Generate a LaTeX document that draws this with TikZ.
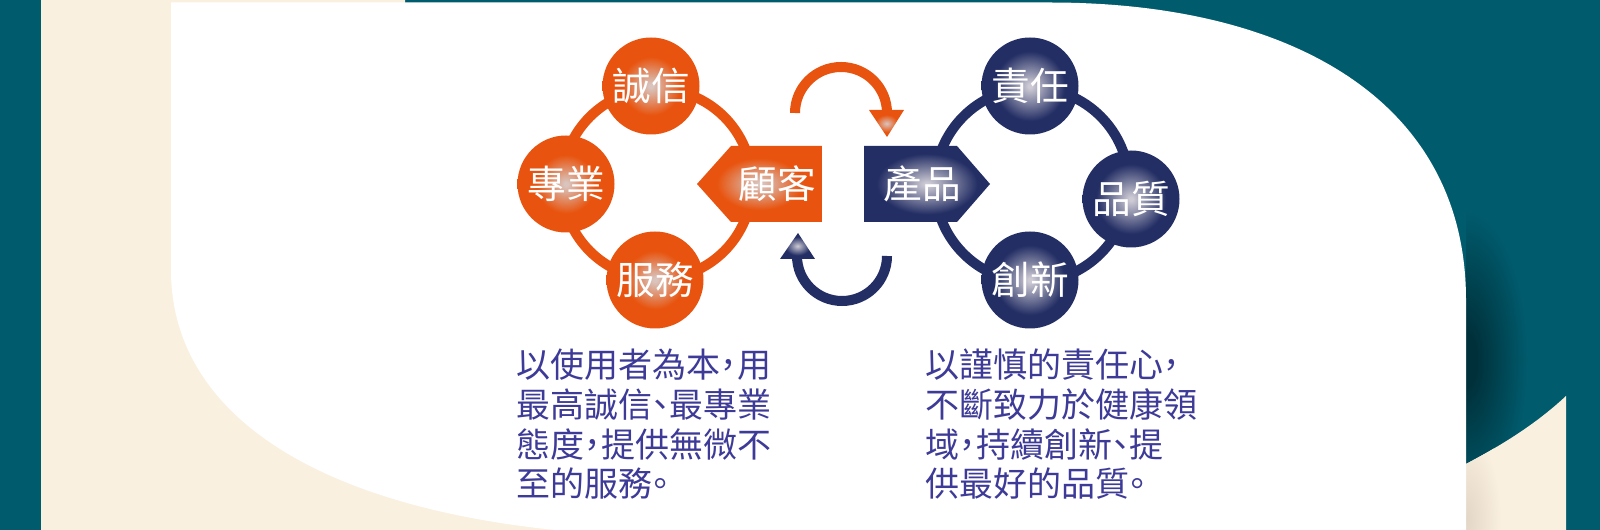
\documentclass[tikz,border=0pt]{standalone}
\usepackage{fontspec}
\newfontfamily\cjk{Noto Sans CJK TC}[RawFeature={+halt}]
\definecolor{bgteal}{HTML}{005B6D}
\definecolor{cream}{HTML}{FAF0E0}
\definecolor{orng}{HTML}{E8540F}
\definecolor{orhi}{HTML}{D9C4BE}
\definecolor{navy}{HTML}{232E64}
\definecolor{nvhi}{HTML}{CDCAD4}
\definecolor{txtblue}{HTML}{3D3B97}
\definecolor{shdark}{HTML}{00313B}
\definecolor{creamshd}{HTML}{E2D6C6}
\pgfdeclareradialshading{orball}{\pgfpoint{0bp}{0bp}}{color(0bp)=(orhi); color(1bp)=(orhi); color(15bp)=(orng); color(50bp)=(orng)}
\pgfdeclareradialshading{nvball}{\pgfpoint{0bp}{0bp}}{color(0bp)=(nvhi); color(1bp)=(nvhi); color(18bp)=(navy); color(50bp)=(navy)}
\pgfdeclareradialshading{orpent}{\pgfpoint{0bp}{0bp}}{color(0bp)=(orhi); color(1bp)=(orhi); color(17bp)=(orng); color(50bp)=(orng)}
\pgfdeclareradialshading{nvpent}{\pgfpoint{0bp}{0bp}}{color(0bp)=(nvhi); color(1bp)=(nvhi); color(20bp)=(navy); color(50bp)=(navy)}
\pgfdeclareradialshading{orarr}{\pgfpoint{0bp}{0bp}}{color(0bp)=(orhi); color(16bp)=(orng); color(50bp)=(orng)}
\pgfdeclareradialshading{nvarr}{\pgfpoint{0bp}{0bp}}{color(0bp)=(nvhi); color(18bp)=(navy); color(50bp)=(navy)}
\pgfdeclareradialshading{wallshadow}{\pgfpoint{0bp}{0bp}}{color(0bp)=(shdark); color(4bp)=(shdark); color(22bp)=(bgteal); color(50bp)=(bgteal)}
\pgfdeclareradialshading{creamshadow}{\pgfpoint{0bp}{0bp}}{color(0bp)=(creamshd); color(22bp)=(cream); color(50bp)=(cream)}
\tikzset{
  ball/.style={circle, minimum size=72.75pt, inner sep=0pt, text=white,
    font=\cjk\fontsize{29pt}{30pt}\selectfont},
  orballnode/.style={ball, shading=orball},
  nvballnode/.style={ball, shading=nvball},
  lbl/.style={inner sep=0pt, text=white, font=\cjk\fontsize{29pt}{30pt}\selectfont},
  body/.style={anchor=base west, inner sep=0pt, text=txtblue,
    font=\cjk\fontsize{25.5pt}{30pt}\selectfont},
  ringO/.style={draw=orng, line width=7.5pt},
  ringN/.style={draw=navy, line width=7.5pt},
}
\begin{document}
\begin{tikzpicture}[x=0.75pt,y=-0.75pt]
\useasboundingbox (0,0) rectangle (1600,530);
% background
\fill[bgteal] (0,0) rectangle (1600,530);
\begin{scope}
  \clip (1466,200) rectangle (1566,530);
  \shade[shading=wallshadow] (1466,360) ellipse [x radius=70, y radius=170];
\end{scope}
\path[fill=cream] (41,0) -- (405,0) -- (405,464) -- (1466,464)
  .. controls (1500,446) and (1535,425) .. (1566,396) -- (1566,530) -- (41,530) -- cycle;
\begin{scope}
  \clip (1466,464) .. controls (1500,446) and (1535,425) .. (1566,396) -- (1566,530) -- (1466,530) -- cycle;
  \shade[shading=creamshadow] (1466,520) ellipse [x radius=40, y radius=100];
\end{scope}
\fill[white] (171,2.5) -- (171,270) .. controls (171,420) and (330,520) .. (620,535)
  -- (1466,535) -- (1466,300) .. controls (1466,100) and (1290,2.5) .. (1050,2.5) -- cycle;
% rings
\draw[ringO] (657,184) circle [radius=95];
\draw[ringN] (1032,185) circle [radius=97];
% curved arrows
\draw[draw=orng, line width=7.5pt] (795,113) arc [start angle=180, end angle=360, radius=46];
\shade[shading=orarr] (869,110) -- (904,110) -- (887,137) -- cycle;
\draw[draw=navy, line width=7.5pt] (887,256) arc [start angle=0, end angle=180, radius=45];
\shade[shading=nvarr] (780,259) -- (815,259) -- (798,233) -- cycle;
% pentagons
\shade[shading=orpent] (822,146) -- (731,146) -- (697,184) -- (731,222) -- (822,222) -- cycle;
\shade[shading=nvpent] (864,146) -- (957,146) -- (990,184) -- (957,222) -- (864,222) -- cycle;
\node[lbl] (gu) at (777,184) {顧客};
\node[lbl] (cp) at (922,184) {產品};
% balls
\node[orballnode] (cx) at (651,86) {誠信};
\node[orballnode] (zy) at (566,184) {專業};
\node[orballnode] (fw) at (655,280) {服務};
\node[nvballnode] (zr) at (1030,86) {責任};
\node[nvballnode] (pz) at (1131,199) {品質};
\node[nvballnode] (cxn) at (1030,280) {創新};
% body text
\node[body] (l1) at (516,378) {以使用者為本，用};
\node[body] (l2) at (516,418) {最高誠信、最專業};
\node[body] (l3) at (516,457.5) {態度，提供無微不};
\node[body] (l4) at (516,497) {至的服務。};
\node[body] (r1) at (925,378) {以謹慎的責任心，};
\node[body] (r2) at (925,418) {不斷致力於健康領};
\node[body] (r3) at (925,457.5) {域，持續創新、提};
\node[body] (r4) at (925,497) {供最好的品質。};
\end{tikzpicture}
\end{document}
